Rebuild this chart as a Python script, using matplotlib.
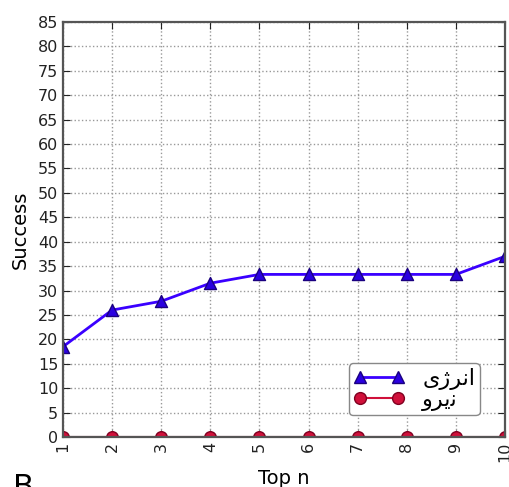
import matplotlib.pyplot as plt
from matplotlib.lines import Line2D

top_n = [1, 2, 3, 4, 5, 6, 7, 8, 9, 10]
energy = [18.5, 26.0, 27.8, 31.5, 33.3, 33.3, 33.3, 33.3, 33.3, 37.0]
force = [0, 0, 0, 0, 0, 0, 0, 0, 0, 0]
y_ticks = list(range(0, 90, 5))

# Persian labels written in presentation forms so they show joined without a shaper
label_energy = "\uFBFC\uFB8A\uFEAE\uFEE7\uFE8D"  # انرژی
label_force = "\uFEED\uFEAE\uFBFE\uFEE7"  # نیرو

blue, blue_face, blue_edge = "#3a00ff", "#2a00e0", "#1a0080"
red, red_edge = "#d0103a", "#800020"

fig = plt.figure(figsize=(5.09, 4.87), dpi=100)
ax = fig.add_axes([0.1238, 0.1027, 0.8683, 0.8521])

# lines and markers drawn apart so the markers get clipped at the axes edge
ax.plot(top_n, energy, color=blue, lw=2)
ax.scatter(top_n, energy, marker="^", s=75, c=blue_face, edgecolors=blue_edge,
           linewidths=1, zorder=3)
ax.plot(top_n, force, color=red, lw=1.5)
ax.scatter(top_n, force, marker="o", s=70, c=red, edgecolors=red_edge,
           linewidths=1, zorder=3)

ax.set_xlim(1, 10)
ax.set_ylim(0, 85)
ax.set_xticks(top_n)
ax.set_yticks(y_ticks)
ax.tick_params(axis="x", labelrotation=90)
ax.tick_params(direction="in", top=True, right=True, labelsize=11.5, colors="#222222",
               length=5)
ax.grid(True, linestyle=":", color="#999999", lw=1)
for s in ax.spines.values():
    s.set_color("#555555")
    s.set_linewidth(1.6)
    s.set_zorder(4)

ax.set_xlabel("Top n", fontsize=14, labelpad=5)
ax.set_ylabel("Success", fontsize=14, labelpad=6)

handles = [
    Line2D([], [], color=blue, lw=2, marker="^", markersize=9,
           markerfacecolor=blue_face, markeredgecolor=blue_edge),
    Line2D([], [], color=red, lw=1.5, marker="o", markersize=8.5,
           markerfacecolor=red, markeredgecolor=red_edge),
]
ax.legend(handles, [label_energy, label_force], loc="lower right",
          bbox_to_anchor=(0.943, 0.053), borderaxespad=0, numpoints=2,
          fontsize=16, fancybox=True, framealpha=1, edgecolor="#888888",
          handlelength=2.3, handletextpad=0.8, borderpad=0.2, labelspacing=0.0)

fig.text(0.025, 0.028, "B", fontsize=22, va="top", ha="left")

fig.savefig("out.png", dpi=100)
